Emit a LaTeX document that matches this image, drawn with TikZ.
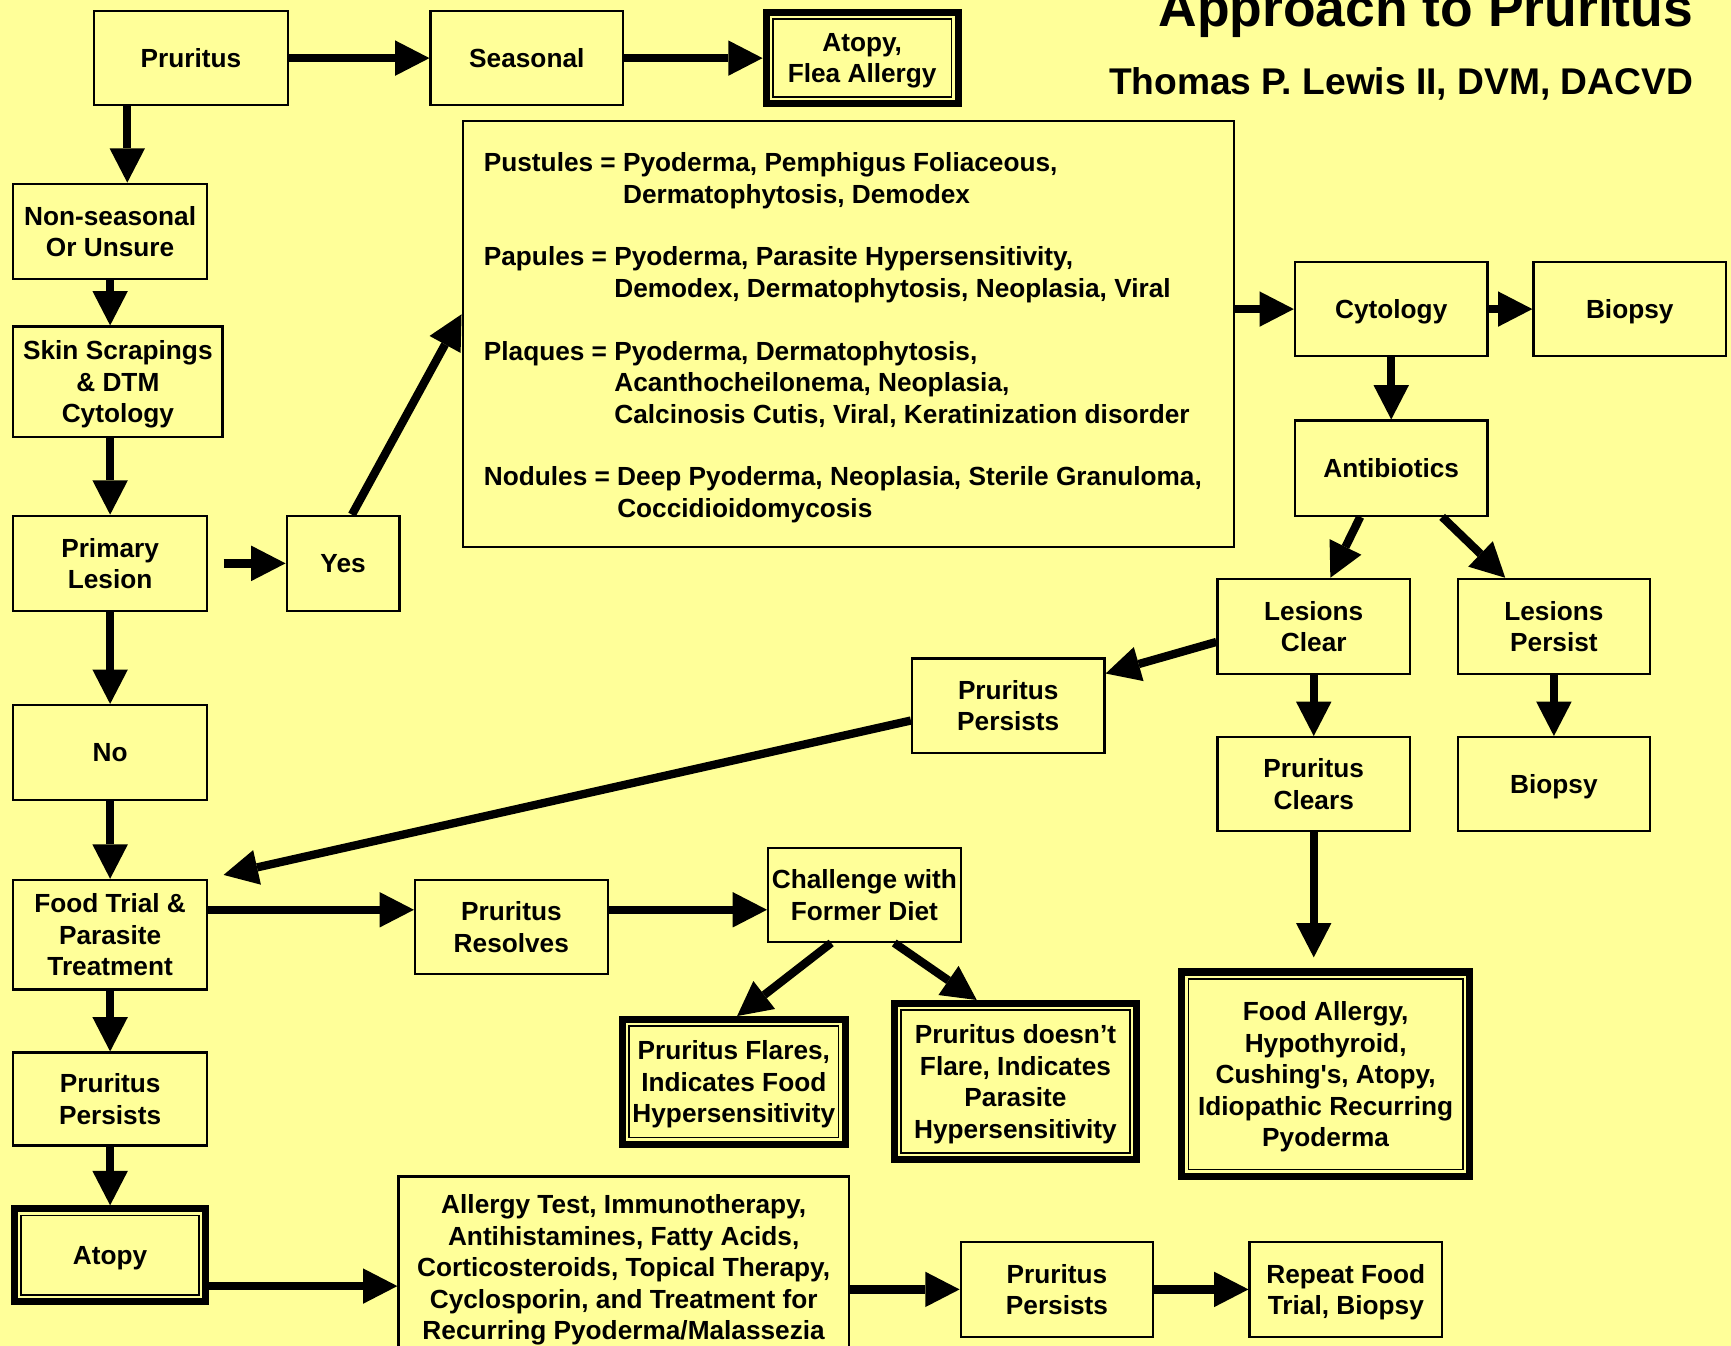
\documentclass[tikz,border=0pt]{standalone}
\usepackage{fontspec}
\newfontfamily\ls{Liberation Sans}[Ligatures=TeXOff]
\usetikzlibrary{arrows.meta}
\definecolor{bg}{RGB}{255,255,153}
\newcommand\ml[1]{\vbox{\baselineskip=28.4pt\lineskiplimit=0pt\halign{\hfil##\hfil\cr#1\crcr}}}
\newcommand\mll[1]{\vbox{\baselineskip=28.4pt\lineskiplimit=0pt\halign{##\hfil\cr#1\crcr}}}
\begin{document}
\begin{tikzpicture}[x=1pt,y=-1pt,
  txt/.style={font=\ls\bfseries\fontsize{23.7}{28.4}\selectfont},
  box/.style={txt, draw, line width=2pt, inner sep=0pt, text depth=0pt},
  dbl/.style={box, line width=6.5pt},
  arr/.style={line width=7.5pt, -{Triangle[length=31pt,width=32pt,line width=0pt]}},
]
\fill[bg] (0,0) rectangle (1564,1216);
\useasboundingbox (0,0) rectangle (1564,1216);

% titles
\node[anchor=base east, inner sep=0pt, font=\ls\bfseries\fontsize{48.3}{58}\selectfont] (title) at (1530,23.5) {Approach to Pruritus};
\node[anchor=base east, inner sep=0pt, font=\ls\bfseries\fontsize{33.6}{40}\selectfont] (author) at (1530,85) {Thomas P. Lewis II, DVM, DACVD};

% boxes
\node[box, minimum width=175pt, minimum height=85pt] (pru) at (172.5,52.5) {\ml{Pruritus}};
\node[box, minimum width=174pt, minimum height=85pt] (sea) at (476,52.5) {\ml{Seasonal}};
\node[dbl, minimum width=173.5pt, minimum height=82.5pt] (afa) at (779,52.5) {\ml{Atopy,\cr Flea Allergy}};
\node[box, minimum width=175pt, minimum height=86pt] (nsu) at (99.5,209) {\ml{Non-seasonal\cr Or Unsure}};
\node[box, minimum width=189pt, minimum height=100pt] (skin) at (106.5,345) {\ml{Skin Scrapings\cr \& DTM\cr Cytology}};
\node[box, minimum width=175pt, minimum height=86pt] (prim) at (99.5,509) {\ml{Primary\cr Lesion}};
\node[box, minimum width=102pt, minimum height=86pt] (yes) at (310,509) {\ml{Yes}};
\node[box, minimum width=175pt, minimum height=86pt] (no) at (99.5,680) {\ml{No}};
\node[box, minimum width=175pt, minimum height=99pt] (food) at (99.5,844.5) {\ml{Food Trial \&\cr Parasite\cr Treatment}};
\node[box, minimum width=175pt, minimum height=84pt] (pp1) at (99.5,993) {\ml{Pruritus\cr Persists}};
\node[dbl, minimum width=172.5pt, minimum height=83.5pt] (atopy) at (99.5,1134) {\ml{Atopy}};

\node[box, minimum width=697pt, minimum height=385pt] (big) at (766.5,301.5) {};
\node[txt, anchor=base west, inner sep=0pt] (bigtxt) at (437,467.5) {\mll{%
Pustules = Pyoderma, Pemphigus Foliaceous,\cr
\phantom{Pustules = }Dermatophytosis, Demodex\cr
\cr
Papules = Pyoderma, Parasite Hypersensitivity,\cr
\phantom{Papules = }Demodex, Dermatophytosis, Neoplasia, Viral\cr
\cr
Plaques = Pyoderma, Dermatophytosis,\cr
\phantom{Plaques = }Acanthocheilonema, Neoplasia,\cr
\phantom{Plaques = }Calcinosis Cutis, Viral, Keratinization disorder\cr
\cr
Nodules = Deep Pyoderma, Neoplasia, Sterile Granuloma,\cr
\phantom{Nodules = }Coccidioidomycosis}};

\node[box, minimum width=174pt, minimum height=85.5pt] (cyt) at (1257,279.25) {\ml{Cytology}};
\node[box, minimum width=174pt, minimum height=85.5pt] (bio1) at (1472.5,279.25) {\ml{Biopsy}};
\node[box, minimum width=174pt, minimum height=86pt] (anti) at (1257,423) {\ml{Antibiotics}};
\node[box, minimum width=174pt, minimum height=86pt] (lc) at (1187,566) {\ml{Lesions\cr Clear}};
\node[box, minimum width=174pt, minimum height=86pt] (lp) at (1404,566) {\ml{Lesions\cr Persist}};
\node[box, minimum width=174pt, minimum height=85pt] (ppm) at (911,637.5) {\ml{Pruritus\cr Persists}};
\node[box, minimum width=174pt, minimum height=85pt] (pc) at (1187,708.5) {\ml{Pruritus\cr Clears}};
\node[box, minimum width=174pt, minimum height=85pt] (bio2) at (1404,708.5) {\ml{Biopsy}};
\node[box, minimum width=174pt, minimum height=85pt] (pr) at (462,837.5) {\ml{Pruritus\cr Resolves}};
\node[box, minimum width=174pt, minimum height=85pt] (chal) at (781,808.5) {\ml{Challenge with\cr Former Diet}};
\node[dbl, minimum width=201.5pt, minimum height=112.5pt] (flare) at (663,977.5) {\ml{Pruritus Flares,\cr Indicates Food\cr Hypersensitivity}};
\node[dbl, minimum width=218.5pt, minimum height=141pt] (dflare) at (917.5,977.25) {\ml{Pruritus doesn’t\cr Flare, Indicates\cr Parasite\cr Hypersensitivity}};
\node[dbl, minimum width=260pt, minimum height=184.5pt] (fa) at (1197.75,970.5) {\ml{Food Allergy,\cr Hypothyroid,\cr Cushing's, Atopy,\cr Idiopathic Recurring\cr Pyoderma}};
\node[box, minimum width=407pt, minimum height=164pt] (allergy) at (563.5,1145) {\ml{Allergy Test, Immunotherapy,\cr Antihistamines, Fatty Acids,\cr Corticosteroids, Topical Therapy,\cr Cyclosporin, and Treatment for\cr Recurring Pyoderma/Malassezia}};
\node[box, minimum width=174pt, minimum height=86pt] (ppb) at (955,1165) {\ml{Pruritus\cr Persists}};
\node[box, minimum width=174pt, minimum height=86pt] (rep) at (1216,1165) {\ml{Repeat Food\cr Trial, Biopsy}};

% inner lines of double frames
\foreach \n in {afa,atopy,flare,dflare,fa}
  \draw[line width=1.6pt] ([shift={(9.3pt,-9.3pt)}]\n.north west) rectangle ([shift={(-9.3pt,9.3pt)}]\n.south east);

% connectors
\draw[arr] (pru.east) -- (sea.west);
\draw[arr] (sea.east) -- (afa.west);
\draw[arr] ([xshift=-57.5pt]pru.south) -- ([xshift=15.5pt]nsu.north);
\draw[arr] (nsu.south) -- (nsu.south |- skin.north);
\draw[arr] (prim.north |- skin.south) -- (prim.north);
\draw[arr] ([xshift=14pt]prim.east) -- (yes.west);
\draw[arr] ([xshift=8pt]yes.north) -- ([yshift=17.5pt]big.west);
\draw[arr] (prim.south) -- (no.north);
\draw[arr] (no.south) -- (food.north);
\draw[arr] (food.south) -- (pp1.north);
\draw[arr] (pp1.south) -- (atopy.north);
\draw[arr] (big.east |- cyt.west) -- (cyt.west);
\draw[arr] (cyt.east) -- (bio1.west);
\draw[arr] (cyt.south) -- (anti.north);
\draw[arr] ([xshift=-28pt]anti.south) -- ([xshift=15pt]lc.north);
\draw[arr] ([xshift=46pt]anti.south) -- ([xshift=-44pt]lp.north);
\draw[arr] ([yshift=-14pt]lc.west) -- ([yshift=29pt]ppm.east);
\draw[arr] ([yshift=-13.5pt]ppm.west) -- ([shift={(14pt,3.5pt)}]food.north east);
\draw[arr] (lc.south) -- (pc.north);
\draw[arr] (lp.south) -- (bio2.north);
\draw[arr, shorten >=10pt] (pc.south) -- (pc.south |- fa.north);
\draw[arr] ([yshift=22.5pt]food.east) -- ([yshift=15.5pt]pr.west);
\draw[arr] ([yshift=15.5pt]pr.east) -- ([yshift=-13.5pt]chal.west);
\draw[arr] ([xshift=-30pt]chal.south) -- ([xshift=3pt]flare.north);
\draw[arr] ([xshift=27pt]chal.south) -- ([xshift=-35pt]dflare.north);
\coordinate (a1) at ([yshift=-28pt]atopy.east);
\draw[arr] (a1) -- (a1 -| allergy.west);
\draw[arr] (allergy.east |- ppb.west) -- (ppb.west);
\draw[arr] (ppb.east) -- (rep.west);
\end{tikzpicture}
\end{document}
